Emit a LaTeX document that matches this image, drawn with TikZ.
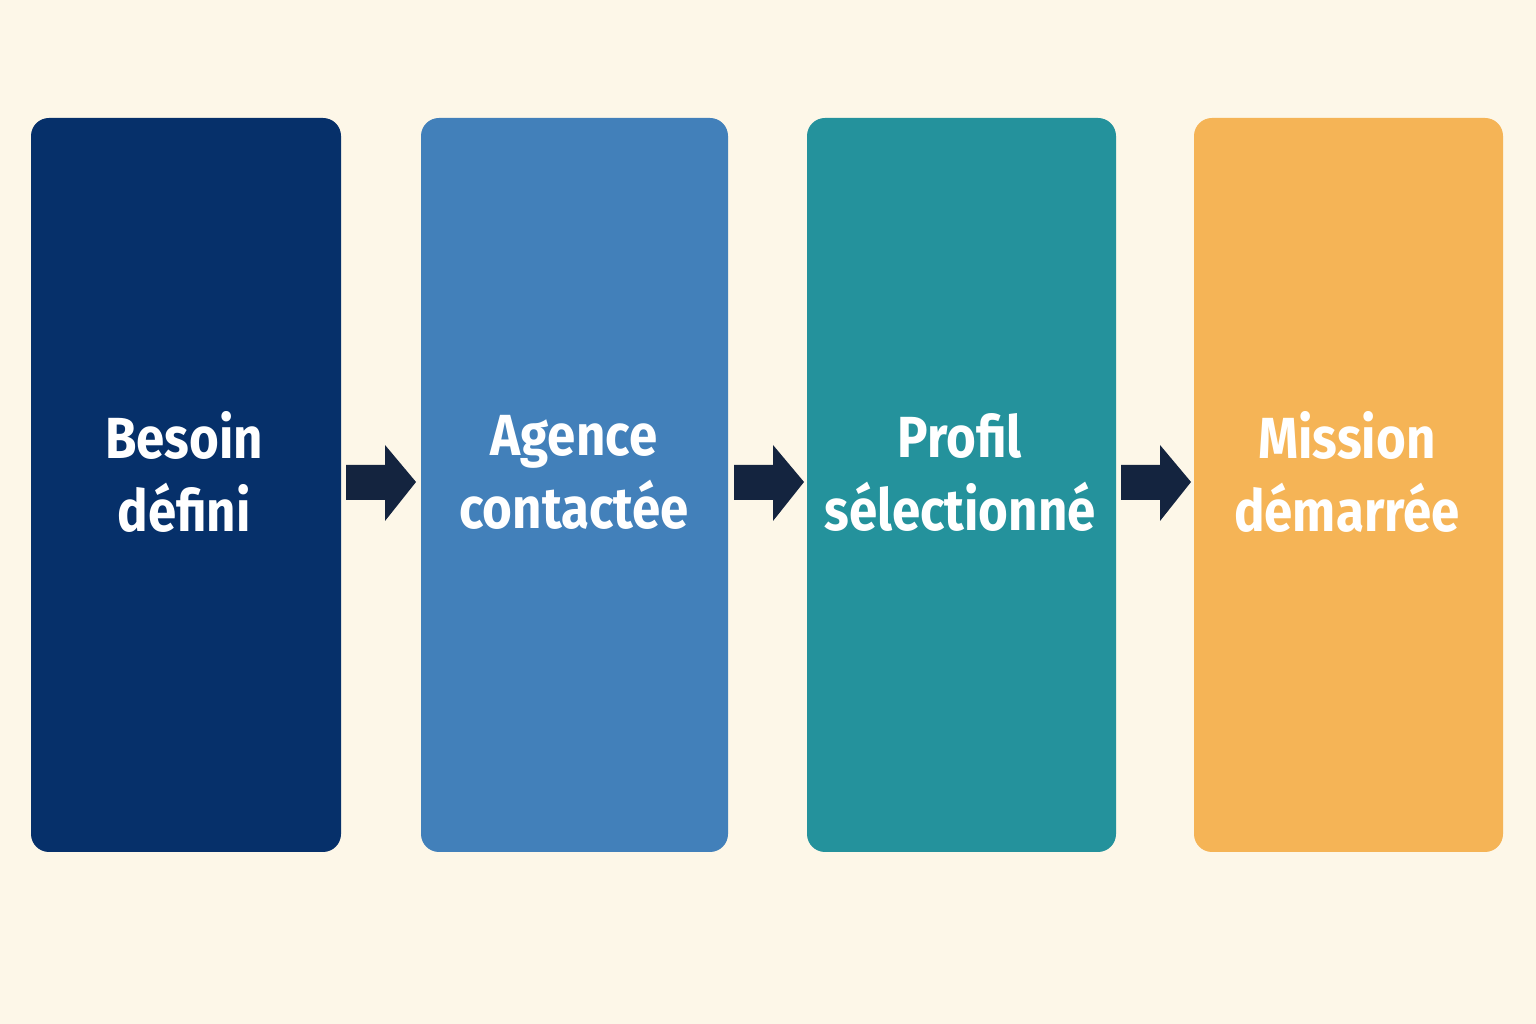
\documentclass[tikz,border=0pt]{standalone}
\usepackage{fontspec}
\setmainfont{Fira Sans}
\begin{document}
\begin{tikzpicture}[x=1pt,y=1pt,
  box/.style={rounded corners=18pt,inner sep=0pt},
  lbl/.style={text=white,font=\fontsize{58}{73}\selectfont\bfseries\addfontfeatures{FakeStretch=0.88},align=center},
  arr/.style={fill=arrowc}]
\definecolor{bg}{HTML}{FDF7E8}
\definecolor{c1}{HTML}{06306A}
\definecolor{c2}{HTML}{4280BA}
\definecolor{c3}{HTML}{24929C}
\definecolor{c4}{HTML}{F5B456}
\definecolor{arrowc}{HTML}{14243F}
\fill[bg] (0,0) rectangle (1536,1024);
\useasboundingbox (0,0) rectangle (1536,1024);
\fill[c1,box] (31,172) rectangle (341,906);
\fill[c2,box] (421,172) rectangle (728,906);
\fill[c3,box] (807,172) rectangle (1116,906);
\fill[c4,box] (1194,172) rectangle (1503,906);
\node[lbl] (b1) at (184,552) {Besoin\\défini};
\node[lbl] (b2) at (574,552) {Agence\\contactée};
\node[lbl] (b3) at (960,552) {Profil\\sélectionné};
\node[lbl] (b4) at (1347,552) {Mission\\démarrée};
\foreach \x in {346,734,1121}{
  \fill[arrowc] (\x,559) -- (\x+39,559) -- (\x+39,579) -- (\x+70,542) -- (\x+39,503) -- (\x+39,524) -- (\x,524) -- cycle;
}
\end{tikzpicture}
\end{document}
